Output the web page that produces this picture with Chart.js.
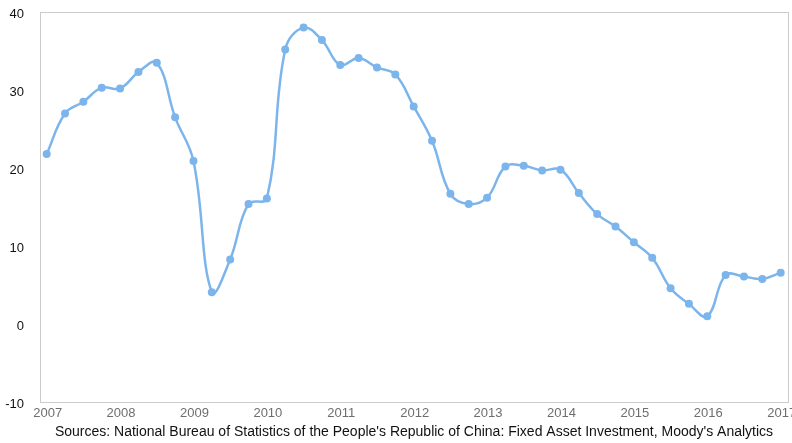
<!DOCTYPE html>
<html>
<head>
<meta charset="utf-8">
<script src="https://cdn.jsdelivr.net/npm/chart.js@4/dist/chart.umd.min.js"></script>
<style>
  html, body { margin: 0; padding: 0; background: #fff; }
  #wrap { width: 792px; height: 443px; }
</style>
</head>
<body>
<div id="wrap"><canvas id="faiChart" width="792" height="443"></canvas></div>
<script>
// year labels on the x axis
const tickYears = [2007, 2008, 2009, 2010, 2011, 2012, 2013, 2014, 2015, 2016, 2017];
const yTicks = [-10, 0, 10, 20, 30, 40];
// quarterly series starting 2007 Q1, % yoy
const startYear = 2007;
const faiGrowth = [
    21.8, 27.0, 28.5, 30.3, 30.2, 32.3, 33.5, 26.5, 20.9, 4.1,
    8.3, 15.4, 16.1, 35.2, 38.0, 36.4, 33.2, 34.1, 32.9, 32.0,
    27.9, 23.5, 16.7, 15.4, 16.2, 20.2, 20.3, 19.7, 19.8, 16.8,
    14.1, 12.5, 10.5, 8.5, 4.6, 2.6, 1.0, 6.3, 6.1, 5.8,
    6.6
];
const sourceText = "Sources: National Bureau of Statistics of the People's Republic of China: Fixed Asset Investment, Moody's Analytics";

// box round the plot area
const plotBorder = {
    id: 'plotBorder',
    afterDraw(chart) {
        const a = chart.chartArea;
        const ctx = chart.ctx;
        ctx.save();
        ctx.strokeStyle = '#cccccc';
        ctx.lineWidth = 1;
        ctx.strokeRect(Math.round(a.left) + 0.5, Math.round(a.top) + 0.5,
            Math.round(a.right - a.left), Math.round(a.bottom - a.top));
        ctx.restore();
    }
};

let points = faiGrowth.map((v, i) => ({ x: startYear + i / 4, y: v }));

let ctx = document.getElementById('faiChart').getContext('2d');
new Chart(ctx, {
    type: 'line',
    data: {
        datasets: [{
            label: 'Fixed asset investment',
            data: points,
            borderColor: '#7cb5ec',
            backgroundColor: '#7cb5ec',
            pointBackgroundColor: '#7cb5ec',
            pointBorderColor: '#7cb5ec',
            borderWidth: 2.5,
            pointRadius: 4,
            pointBorderWidth: 0,
            tension: 0.4,
            fill: false
        }]
    },
    options: {
        responsive: false,
        animation: false,
        devicePixelRatio: 1,
        layout: { padding: { top: 12, right: 4, left: 0, bottom: 0 } },
        scales: {
            x: {
                type: 'linear',
                min: 2006.909,
                max: 2017.1,
                grid: { display: false, drawTicks: false },
                border: { display: false },
                afterBuildTicks: scale => { scale.ticks = tickYears.map(v => ({ value: v })); },
                afterFit: scale => { scale.height = 18; scale.paddingLeft = 0; scale.paddingRight = 0; },
                ticks: {
                    padding: 3,
                    labelOffset: 1,
                    maxRotation: 0,
                    autoSkip: false,
                    color: '#6e6e6e',
                    font: { family: 'Liberation Sans, Arial, sans-serif', size: 13 },
                    callback: v => String(v)
                }
            },
            y: {
                min: -10,
                max: 40,
                grid: { display: false, drawTicks: false },
                border: { display: false },
                afterBuildTicks: scale => { scale.ticks = yTicks.map(v => ({ value: v })); },
                afterFit: scale => { scale.width = 40; scale.paddingTop = 0; scale.paddingBottom = 0; },
                ticks: {
                    padding: 16,
                    labelOffset: 2,
                    color: '#111',
                    font: { family: 'Liberation Sans, Arial, sans-serif', size: 13 }
                }
            }
        },
        plugins: {
            legend: { display: false },
            tooltip: { enabled: false },
            title: {
                display: true,
                position: 'bottom',
                fullSize: false,
                text: sourceText,
                color: '#111',
                font: { family: 'Liberation Sans, Arial, sans-serif', size: 14, weight: 'normal' },
                padding: { top: 4, bottom: 2 }
            }
        }
    },
    plugins: [plotBorder]
});
</script>
</body>
</html>
